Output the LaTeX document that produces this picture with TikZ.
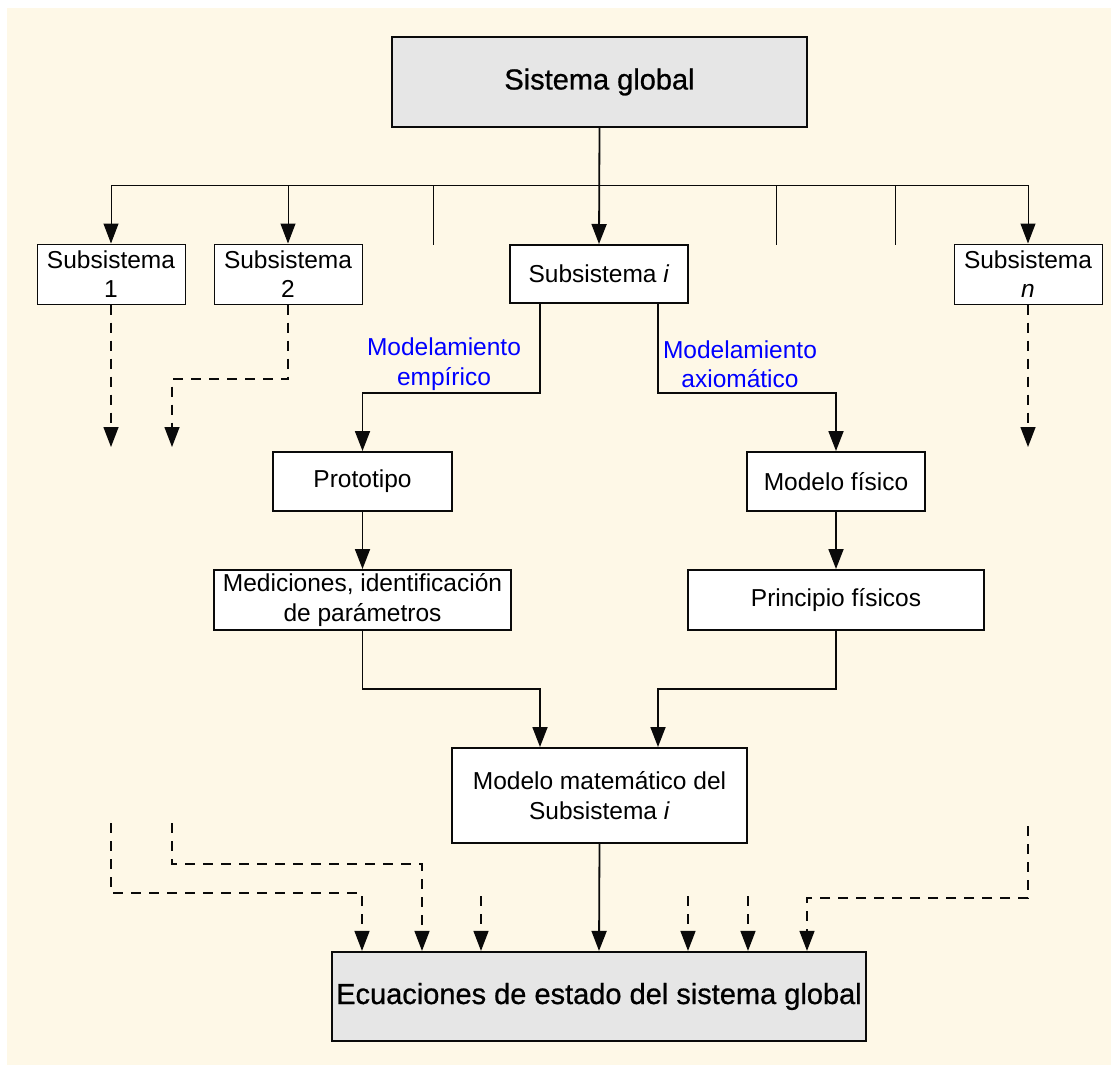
\documentclass[tikz,border=0pt]{standalone}
\usepackage{fontspec}
\setmainfont{Liberation Sans}
\newfontfamily\heavyfont[FakeBold=0.8]{Liberation Sans}
\usetikzlibrary{arrows.meta}
\definecolor{paper}{RGB}{254,248,231}
\definecolor{boxgray}{RGB}{230,230,230}
\definecolor{ink}{RGB}{10,10,10}
\definecolor{lblblue}{RGB}{0,0,255}

\begin{document}
\begin{tikzpicture}[x=1pt,y=-1pt,
  txt/.style={font=\fontsize{24.5}{29.5}\selectfont, align=center, inner sep=0pt},
  bigtxt/.style={font=\heavyfont\fontsize{29}{34}\selectfont, align=center, inner sep=0pt},
  mainbox/.style={txt, draw=ink, line width=2pt, fill=white},
  graybox/.style={bigtxt, draw=ink, line width=2.2pt, fill=boxgray},
  subbox/.style={txt, draw=ink, line width=1pt, fill=white, minimum width=148pt, minimum height=60pt},
  lbl/.style={txt, text=lblblue},
  tip/.style={-{Triangle[length=20pt,width=15pt]}},
  conn/.style={draw=ink, line width=1.8pt},
  bus/.style={draw=ink, line width=1pt},
  dsh/.style={draw=ink, line width=1.4pt, dash pattern=on 10pt off 8pt}
]
\useasboundingbox (0,0) rectangle (1111,1065);
\fill[paper] (7,8) rectangle (1111,1065);

% boxes
\node[graybox, minimum width=415pt, minimum height=90pt] (glob) at (599.5,82) {Sistema global};
\node[subbox] (sub1) at (111,274) {Subsistema\\1};
\node[subbox] (sub2) at (288,274) {Subsistema\\2};
\node[mainbox, minimum width=178pt, minimum height=58pt] (subi) at (599,274) {Subsistema \textit{i}};
\node[subbox] (subn) at (1028,274) {Subsistema\\\textit{n}};

\node[lbl] (lemp) at (444,364) {Modelamiento\\empírico};
\node[lbl] (laxi) at (740,364) {Modelamiento\\axiomático};

\node[mainbox, minimum width=179pt, minimum height=59pt] (proto) at (362.5,481.5) {Prototipo};
\node[mainbox, minimum width=178pt, minimum height=59pt] (fis) at (836,481.5) {Modelo físico};
\node[mainbox, minimum width=297pt, minimum height=60pt] (medi) at (362.5,600) {Mediciones, identificación\\de parámetros};
\node[mainbox, minimum width=296pt, minimum height=60pt] (prin) at (836,600) {Principio físicos};
\node[mainbox, minimum width=295pt, minimum height=95pt] (mat) at (599.5,795.5) {Modelo matemático del\\Subsistema \textit{i}};
\node[graybox, minimum width=534pt, minimum height=89pt] (ecu) at (599,996.5) {Ecuaciones de estado del sistema global};

% distribution bus below the global system
\coordinate (busL) at (111,185);
\coordinate (busR) at (1028,185);
\coordinate (tk1) at (433,185);
\coordinate (tk2) at (776,185);
\coordinate (tk3) at (895,185);
\draw[bus] (busL) -- (busR);
\draw[conn, tip] (glob.south) -- (subi.north);
\draw[bus, tip] (sub1.north |- busL) -- (sub1.north);
\draw[bus, tip] (sub2.north |- busL) -- (sub2.north);
\draw[bus, tip] (subn.north |- busL) -- (subn.north);
\draw[bus] (tk1) -- ++(0,60);
\draw[bus] (tk2) -- ++(0,60);
\draw[bus] (tk3) -- ++(0,60);

% the two modelling paths
\coordinate (emp) at (362.5,393);
\coordinate (axi) at (836,393);
\draw[conn, tip] ([xshift=-59pt]subi.south) |- (emp) -- (proto.north);
\draw[conn, tip] ([xshift=59pt]subi.south) |- (axi) -- (fis.north);
\draw[conn, tip] (proto.south) -- (medi.north);
\draw[conn, tip] (fis.south) -- (prin.north);
\coordinate (m1) at (540,689);
\coordinate (m2) at (658,689);
\draw[conn, tip] (medi.south) |- (m1) -- (m1 |- mat.north);
\draw[conn, tip] (prin.south) |- (m2) -- (m2 |- mat.north);
\draw[conn, tip] (mat.south) -- (ecu.north);

% outputs of the other subsystems
\coordinate (d1) at (111,447);
\coordinate (d2a) at (172,379);
\coordinate (d2) at (172,447);
\coordinate (dn) at (1028,447);
\draw[dsh, tip] (sub1.south) -- (d1);
\draw[dsh, tip] (sub2.south) |- (d2a) -- (d2);
\draw[dsh, tip] (subn.south) -- (dn);

% inputs to the global state equations
\coordinate (u1) at (111,823);
\coordinate (u1c) at (362,893);
\coordinate (u2) at (172,823);
\coordinate (u2c) at (422,864);
\coordinate (u3) at (481,896);
\coordinate (u4) at (688,896);
\coordinate (u5) at (748,896);
\coordinate (un) at (1028,826);
\coordinate (unc) at (807,898);
\draw[dsh, tip] (u1) |- (u1c) -- (u1c |- ecu.north);
\draw[dsh, tip] (u2) |- (u2c) -- (u2c |- ecu.north);
\draw[dsh, tip] (u3) -- (u3 |- ecu.north);
\draw[dsh, tip] (u4) -- (u4 |- ecu.north);
\draw[dsh, tip] (u5) -- (u5 |- ecu.north);
\draw[dsh, tip] (un) |- (unc) -- (unc |- ecu.north);
\end{tikzpicture}
\end{document}
